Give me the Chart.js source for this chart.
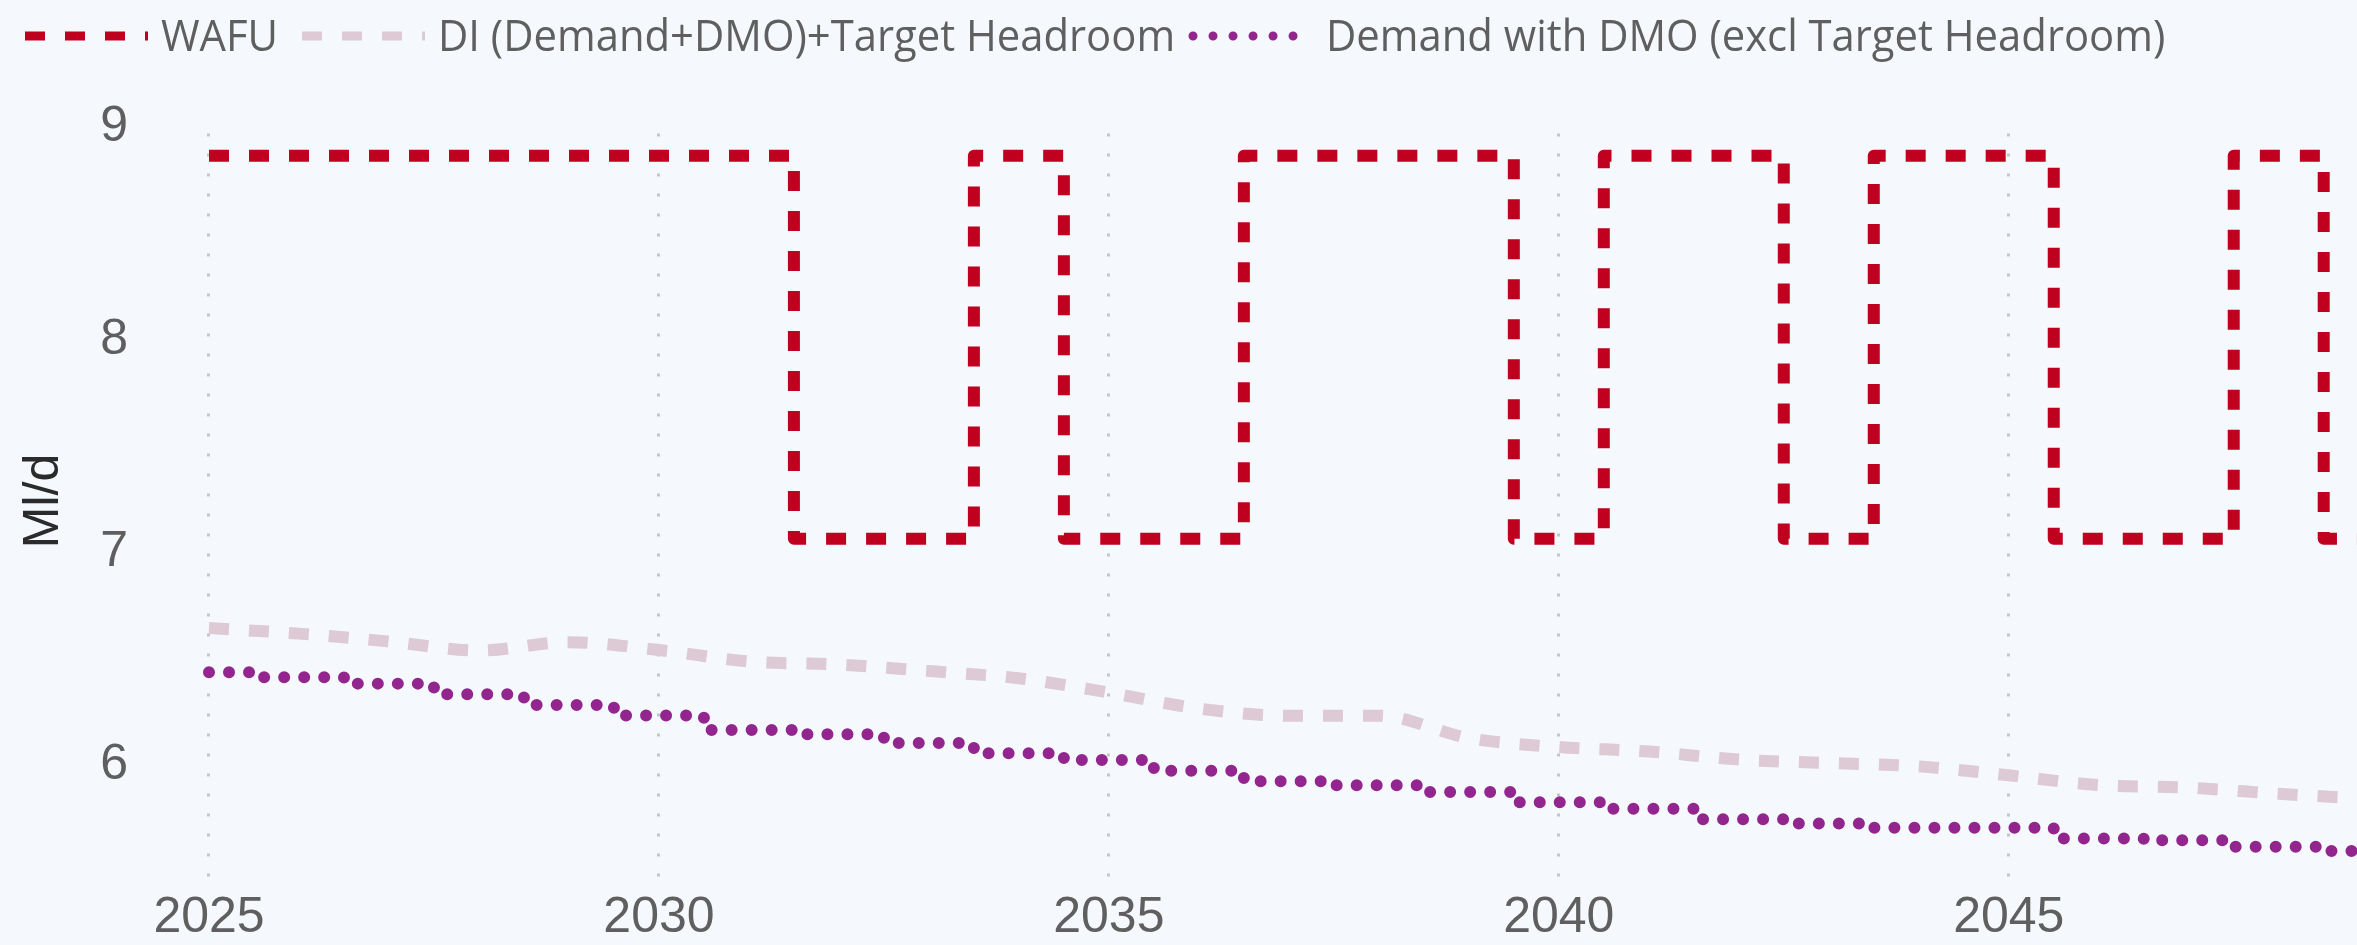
<!DOCTYPE html>
<html lang="en">
<head>
    <meta charset="UTF-8">
    <title>WAFU vs demand</title>
    <script src="https://cdn.jsdelivr.net/npm/chart.js@4.4.1/dist/chart.umd.min.js"></script>
    <style>
        html, body { margin: 0; padding: 0; background: #f5f8fc; }
        #wrap { width: 2357px; height: 945px; position: relative; }
    </style>
</head>
<body>
    <div id="wrap"><canvas id="chart"></canvas></div>

    <script>
        // Values, one per year
        const years = [2025, 2026, 2027, 2028, 2029, 2030, 2031, 2032, 2033, 2034, 2035, 2036, 2037,
                       2038, 2039, 2040, 2041, 2042, 2043, 2044, 2045, 2046, 2047, 2048, 2049];

        const wafu = [8.865, 8.865, 8.865, 8.865, 8.865, 8.865, 8.865, 7.065, 7.065, 8.865, 7.065, 7.065, 8.865,
                      8.865, 8.865, 7.065, 8.865, 8.865, 7.065, 8.865, 8.865, 7.065, 7.065, 8.865, 7.065];

        const diTarget = [6.645, 6.619, 6.582, 6.540, 6.579, 6.542, 6.488, 6.474, 6.443, 6.409, 6.342, 6.267, 6.233,
                          6.233, 6.128, 6.086, 6.065, 6.027, 6.011, 5.995, 5.953, 5.907, 5.895, 5.866, 5.842];

        const demandDmo = [6.437, 6.414, 6.384, 6.334, 6.284, 6.234, 6.166, 6.146, 6.105, 6.057, 6.025, 5.975, 5.925,
                           5.906, 5.875, 5.826, 5.796, 5.747, 5.727, 5.706, 5.706, 5.656, 5.648, 5.617, 5.597];

        const xTicks = [2025, 2030, 2035, 2040, 2045];
        const yTicks = [6, 7, 8, 9];

        const toPoints = vals => years.map((x, i) => ({ x: x, y: vals[i] }));
        const axisFont = { family: '"Liberation Sans", Arial, sans-serif', size: 50 };

        // legend drawn by hand so the long line samples match
        const legendStart = [25, 302, 1190];
        const topLegend = {
            id: 'topLegend',
            afterDraw(chart) {
                const ctx = chart.ctx;
                ctx.save();
                ctx.font = '44px "Open Sans"';
                ctx.textBaseline = 'alphabetic';
                chart.data.datasets.forEach((ds, i) => {
                    const x = legendStart[i];
                    const dotted = ds.borderCapStyle === 'round';
                    ctx.beginPath();
                    ctx.strokeStyle = ds.borderColor;
                    ctx.lineWidth = 9;
                    ctx.lineCap = ds.borderCapStyle;
                    ctx.setLineDash(ds.borderDash);
                    ctx.moveTo(dotted ? x + 3 : x, 36);
                    ctx.lineTo(x + 123, 36);
                    ctx.stroke();
                    ctx.setLineDash([]);

                    ctx.save();
                    ctx.translate(x + 136, 51);
                    ctx.scale(0.95, 1);
                    ctx.fillStyle = '#5f5f5f';
                    ctx.fillText(ds.label, 0, 0);
                    ctx.restore();
                });
                ctx.restore();
            }
        };

        new Chart(document.getElementById('chart'), {
            type: 'line',
            data: {
                datasets: [{
                    label: 'WAFU',
                    data: toPoints(wafu),
                    borderColor: '#c0001f',
                    borderWidth: 12,
                    borderDash: [20, 20],
                    borderCapStyle: 'butt',
                    borderJoinStyle: 'round',
                    stepped: 'middle',
                    pointRadius: 0,
                    order: 3
                }, {
                    label: 'DI (Demand+DMO)+Target Headroom',
                    data: toPoints(diTarget),
                    borderColor: '#ddcad4',
                    borderWidth: 12,
                    borderDash: [20, 20],
                    borderCapStyle: 'butt',
                    cubicInterpolationMode: 'monotone',
                    tension: 0.4,
                    pointRadius: 0,
                    order: 2
                }, {
                    label: 'Demand with DMO (excl Target Headroom)',
                    data: toPoints(demandDmo),
                    borderColor: '#92268e',
                    borderWidth: 12,
                    borderDash: [0.01, 20],
                    borderCapStyle: 'round',
                    borderJoinStyle: 'round',
                    stepped: 'middle',
                    pointRadius: 0,
                    order: 1
                }]
            },
            options: {
                responsive: true,
                maintainAspectRatio: false,
                animation: false,
                events: [],
                layout: { padding: { top: 125, left: 0, right: 0, bottom: 0 } },
                plugins: {
                    legend: { display: false },
                    tooltip: { enabled: false }
                },
                scales: {
                    x: {
                        type: 'linear',
                        min: 2024.9,
                        max: 2048.87,
                        afterBuildTicks: scale => { scale.ticks = xTicks.map(v => ({ value: v })); },
                        afterFit: scale => {
                            scale.height = 68;
                            scale.paddingLeft = 0;
                            scale.paddingRight = 0;
                        },
                        ticks: {
                            callback: v => String(v),
                            color: '#5f5f5f',
                            font: axisFont,
                            padding: 11,
                            maxRotation: 0
                        },
                        grid: {
                            color: '#c6c6c6',
                            lineWidth: 3,
                            drawTicks: false
                        },
                        border: { display: false, dash: [3, 17], dashOffset: 11.5 }
                    },
                    y: {
                        min: 5.475,
                        max: 9.01,
                        afterBuildTicks: scale => { scale.ticks = yTicks.map(v => ({ value: v })); },
                        afterFit: scale => {
                            // keep the wide label gap from eating into the plot height
                            scale.width = 200;
                            scale.paddingTop = 0;
                            scale.paddingBottom = 0;
                        },
                        ticks: {
                            color: '#5f5f5f',
                            font: axisFont,
                            padding: 72
                        },
                        grid: { display: false, drawTicks: false },
                        border: { display: false },
                        title: {
                            display: true,
                            text: 'Ml/d',
                            color: '#2b2b2b',
                            font: axisFont,
                            padding: { top: 14, bottom: 0 }
                        }
                    }
                }
            },
            plugins: [topLegend]
        });
    </script>
</body>
</html>
